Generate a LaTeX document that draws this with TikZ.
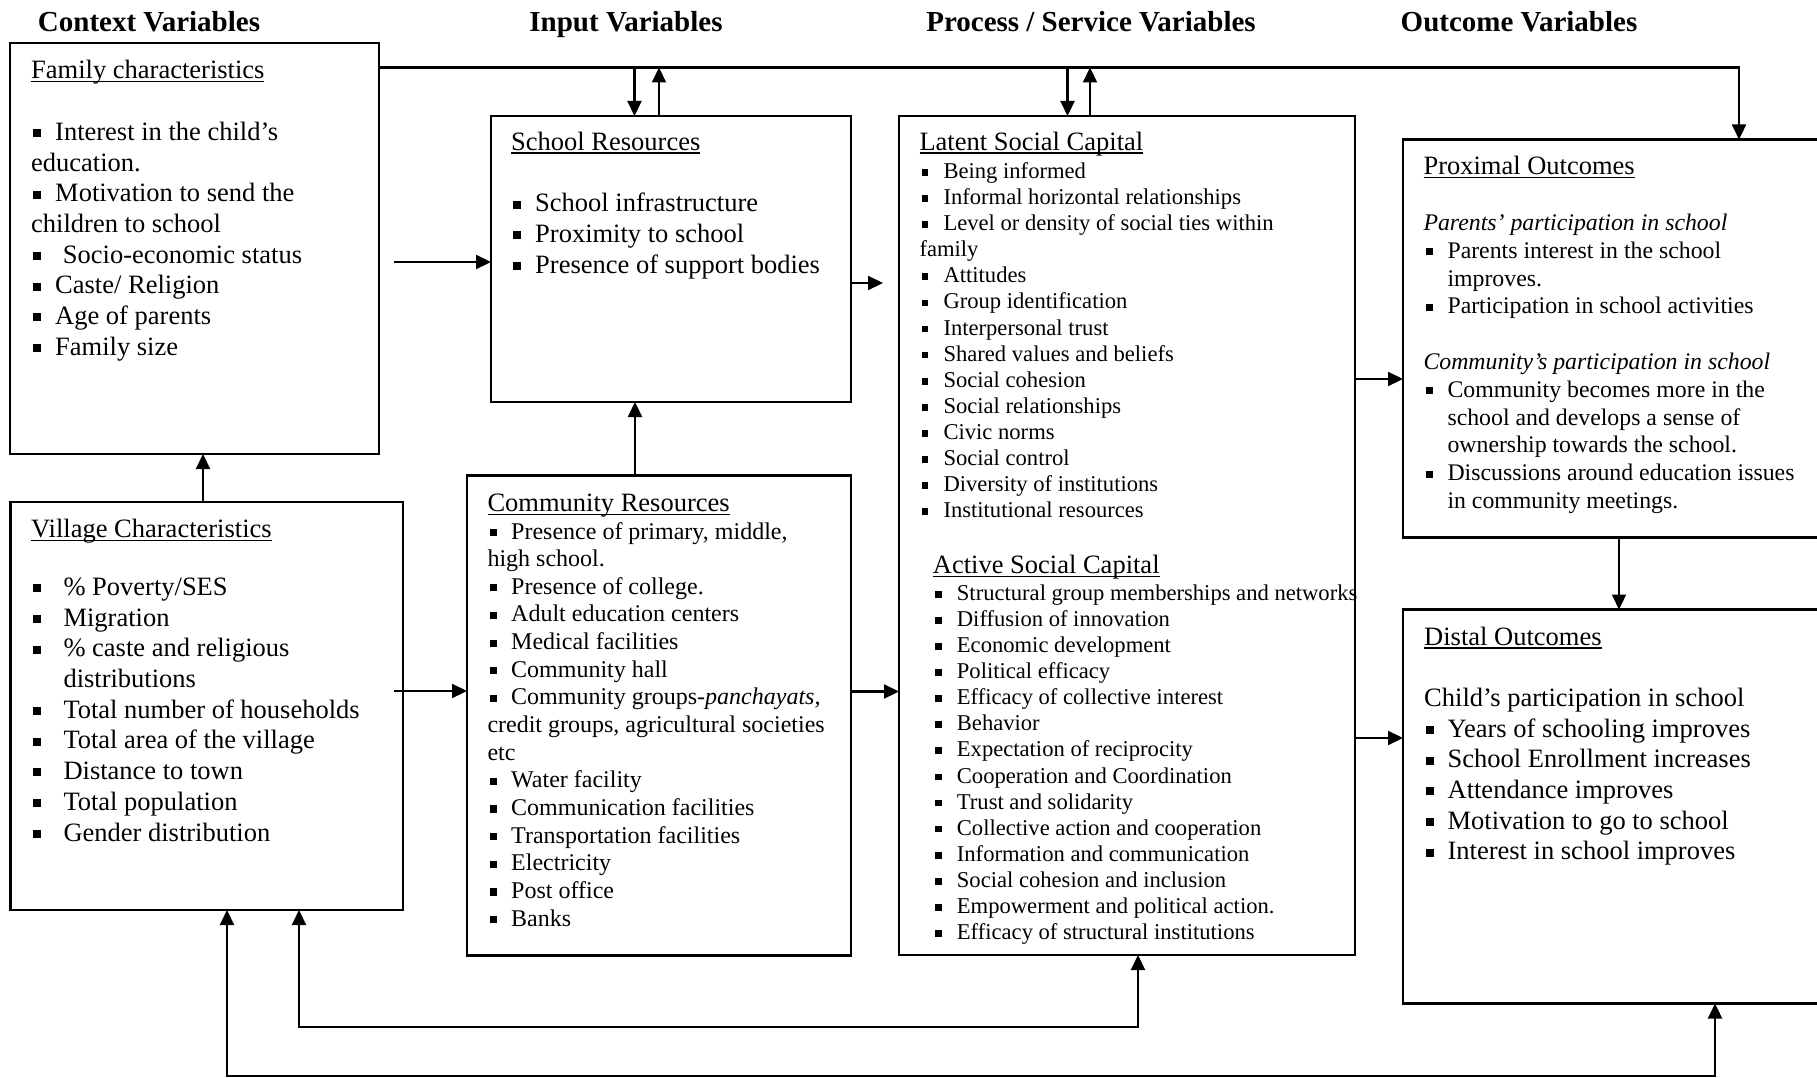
\documentclass[tikz,border=0pt]{standalone}
\usepackage{fontspec}
\setmainfont{Liberation Serif}
\usetikzlibrary{arrows.meta}
\newcommand\zbul{\rule[0.12em]{0.3em}{0.3em}}
\newcommand\zbi[2]{\hbox{\hbox to #1{\hspace{2pt}\zbul\hss}#2}}
\newcommand\zhi[2]{\hbox{\hspace{#1}#2}}
\newcommand\zpl[1]{\hbox{#1}}
\newcommand\zul[1]{\setbox0\hbox{#1}\hbox{\rlap{\rule[-3.5pt]{\wd0}{1.5pt}}\box0}}
\newcommand\zblk[3]{\vtop{\fontsize{#1}{#2}\selectfont\baselineskip=#2\relax #3}}
\tikzset{
  box/.style={draw, line width=2.2pt, inner sep=0pt, outer sep=0pt, anchor=north west},
  arr/.style={line width=2.2pt, -{Triangle[length=15pt,width=14pt]}},
  darr/.style={line width=2.2pt, {Triangle[length=15pt,width=14pt]}-{Triangle[length=15pt,width=14pt]}},
  txt/.style={anchor=base west, inner sep=0pt},
  head/.style={anchor=base, inner sep=0pt, font=\fontsize{29pt}{34pt}\selectfont\bfseries},
}
\begin{document}
\begin{tikzpicture}[x=1pt,y=-1pt]
\useasboundingbox (0,0) rectangle (1817,1078);
\clip (0,0) rectangle (1817,1078);

% headers
\node[head] (h1) at (149,32) {Context Variables};
\node[head] (h2) at (626,32) {Input Variables};
\node[head] (h3) at (1091,32) {Process / Service Variables};
\node[head] (h4) at (1519,32) {Outcome Variables};

% boxes
\node[box, minimum width=369pt, minimum height=411pt] (fam) at (10,43) {};
\node[box, minimum width=392.5pt, minimum height=408pt] (vil) at (10.5,502) {};
\node[box, minimum width=360pt, minimum height=286pt] (sch) at (491,116) {};
\node[box, minimum width=384pt, minimum height=480pt] (com) at (467,475.5) {};
\node[box, minimum width=456pt, minimum height=839pt] (lat) at (899,116) {};
\node[box, minimum width=460pt, minimum height=398pt] (prox) at (1403,139.5) {};
\node[box, minimum width=460pt, minimum height=394pt] (dist) at (1403,609.5) {};

\begin{scope}[shift={(0,3)}]
% family text
\node[txt] (famtx) at (31,76) {\zblk{26.5pt}{30.7pt}{%
\zul{Family characteristics}
\zpl{}
\zbi{24pt}{Interest in the child’s}
\zpl{education.}
\zbi{24pt}{Motivation to send the}
\zpl{children to school}
\zbi{31.7pt}{Socio-economic status}
\zbi{24pt}{Caste/ Religion}
\zbi{24pt}{Age of parents}
\zbi{24pt}{Family size}}};

% village text
\node[txt] (viltt) at (31,534.5) {\zblk{26.5pt}{30.7pt}{\zul{Village Characteristics}}};
\node[txt] (viltx) at (31,592.4) {\zblk{26.5pt}{30.7pt}{%
\zbi{32.3pt}{\% Poverty/SES}
\zbi{32.3pt}{Migration}
\zbi{32.3pt}{\% caste and religious}
\zhi{32.3pt}{distributions}
\zbi{32.3pt}{Total number of households}
\zbi{32.3pt}{Total area of the village}
\zbi{32.3pt}{Distance to town}
\zbi{32.3pt}{Total population}
\zbi{32.3pt}{Gender distribution}}};

% school text
\node[txt] (schtx) at (511,147.5) {\zblk{26.5pt}{30.7pt}{%
\zul{School Resources}
\zpl{}
\zbi{24pt}{School infrastructure}
\zbi{24pt}{Proximity to school}
\zbi{24pt}{Presence of support bodies}}};

% community text
\node[txt] (comtt) at (487.3,508.5) {\zblk{26.5pt}{30pt}{\zul{Community Resources}}};
\node[txt] (comtx) at (487.3,536) {\zblk{24pt}{27.65pt}{%
\zbi{23.7pt}{Presence of primary, middle,}
\zpl{high school.}
\zbi{23.7pt}{Presence of college.}
\zbi{23.7pt}{Adult education centers}
\zbi{23.7pt}{Medical facilities}
\zbi{23.7pt}{Community hall}
\zbi{23.7pt}{Community groups-\textit{panchayats,}}
\zpl{credit groups, agricultural societies}
\zpl{etc}
\zbi{23.7pt}{Water facility}
\zbi{23.7pt}{Communication facilities}
\zbi{23.7pt}{Transportation facilities}
\zbi{23.7pt}{Electricity}
\zbi{23.7pt}{Post office}
\zbi{23.7pt}{Banks}}};

% latent text
\node[txt] (lattt) at (919.3,147.5) {\zblk{26.5pt}{30pt}{\zul{Latent Social Capital}}};
\node[txt] (lattx) at (919.3,175.5) {\zblk{22.6pt}{26.1pt}{%
\zbi{24pt}{Being informed}
\zbi{24pt}{Informal horizontal relationships}
\zbi{24pt}{Level or density of social ties within}
\zpl{family}
\zbi{24pt}{Attitudes}
\zbi{24pt}{Group identification}
\zbi{24pt}{Interpersonal trust}
\zbi{24pt}{Shared values and beliefs}
\zbi{24pt}{Social cohesion}
\zbi{24pt}{Social relationships}
\zbi{24pt}{Civic norms}
\zbi{24pt}{Social control}
\zbi{24pt}{Diversity of institutions}
\zbi{24pt}{Institutional resources}}};

% active text
\node[txt] (acttt) at (932.7,570.5) {\zblk{26.5pt}{30pt}{\zul{Active Social Capital}}};
\node[txt] (acttx) at (932.7,597.3) {\zblk{22.6pt}{26.1pt}{%
\zbi{24pt}{Structural group memberships and networks}
\zbi{24pt}{Diffusion of innovation}
\zbi{24pt}{Economic development}
\zbi{24pt}{Political efficacy}
\zbi{24pt}{Efficacy of collective interest}
\zbi{24pt}{Behavior}
\zbi{24pt}{Expectation of reciprocity}
\zbi{24pt}{Cooperation and Coordination}
\zbi{24pt}{Trust and solidarity}
\zbi{24pt}{Collective action and cooperation}
\zbi{24pt}{Information and communication}
\zbi{24pt}{Social cohesion and inclusion}
\zbi{24pt}{Empowerment and political action.}
\zbi{24pt}{Efficacy of structural institutions}}};

% proximal text
\node[txt] (prxtt) at (1423.3,172) {\zblk{26.5pt}{30pt}{\zul{Proximal Outcomes}}};
\node[txt] (prxtx) at (1423.3,227.5) {\zblk{23.8pt}{27.8pt}{%
\zpl{\itshape Parents’ participation in school}
\zbi{24pt}{Parents interest in the school}
\zhi{24pt}{improves.}
\zbi{24pt}{Participation in school activities}
\zpl{}
\zpl{\itshape Community’s participation in school}
\zbi{24pt}{Community becomes more in the}
\zhi{24pt}{school and develops a sense of}
\zhi{24pt}{ownership towards the school.}
\zbi{24pt}{Discussions around education issues}
\zhi{24pt}{in community meetings.}}};

% distal text
\node[txt] (dsttx) at (1424,642) {\zblk{26.5pt}{30.7pt}{%
\zul{Distal Outcomes}
\zpl{}
\zpl{Child’s participation in school}
\zbi{23.4pt}{Years of schooling improves}
\zbi{23.4pt}{School Enrollment increases}
\zbi{23.4pt}{Attendance improves}
\zbi{23.4pt}{Motivation to go to school}
\zbi{23.4pt}{Interest in school improves}}};
\end{scope}

% connectors
\coordinate (tr) at (1739,67.5);
\draw[arr] (fam.east |- tr) -- (tr) -- (tr |- prox.north);
\coordinate (sd) at (634.5,67.5);
\coordinate (su) at (659,67.5);
\draw[arr] (sd) -- (sd |- sch.north);
\draw[arr] (su |- sch.north) -- (su);
\coordinate (ld) at (1067.5,67.5);
\coordinate (lu) at (1090,67.5);
\draw[arr] (ld) -- (ld |- lat.north);
\draw[arr] (lu |- lat.north) -- (lu);

\coordinate (fs) at (0,262);
\draw[arr] ([xshift=15pt]fam.east |- fs) -- (sch.west |- fs);
\coordinate (sl) at (0,283);
\draw[arr] (sch.east |- sl) -- ([xshift=-16pt]lat.west |- sl);
\coordinate (vc) at (0,691);
\draw[arr] ([xshift=-9pt]vil.east |- vc) -- (com.west |- vc);
\coordinate (cl) at (0,691.5);
\draw[arr] (com.east |- cl) -- (lat.west |- cl);
\coordinate (cs) at (635,0);
\draw[arr] (com.north -| cs) -- (sch.south -| cs);
\coordinate (vf) at (203,0);
\draw[arr] (vil.north -| vf) -- (fam.south -| vf);
\coordinate (lp) at (0,379);
\draw[arr] (lat.east |- lp) -- (prox.west |- lp);
\coordinate (lq) at (0,738);
\draw[arr] (lat.east |- lq) -- (dist.west |- lq);
\coordinate (pd) at (1619,0);
\draw[arr] (prox.south -| pd) -- (dist.north -| pd);

\coordinate (b1) at (299,1027);
\coordinate (b1r) at (1138,1027);
\draw[darr] (vil.south -| b1) -- (b1) -- (b1r) -- (b1r |- lat.south);
\coordinate (b2) at (227,1076);
\coordinate (b2r) at (1715,1076);
\draw[darr] (vil.south -| b2) -- (b2) -- (b2r) -- (b2r |- dist.south);
\end{tikzpicture}
\end{document}
